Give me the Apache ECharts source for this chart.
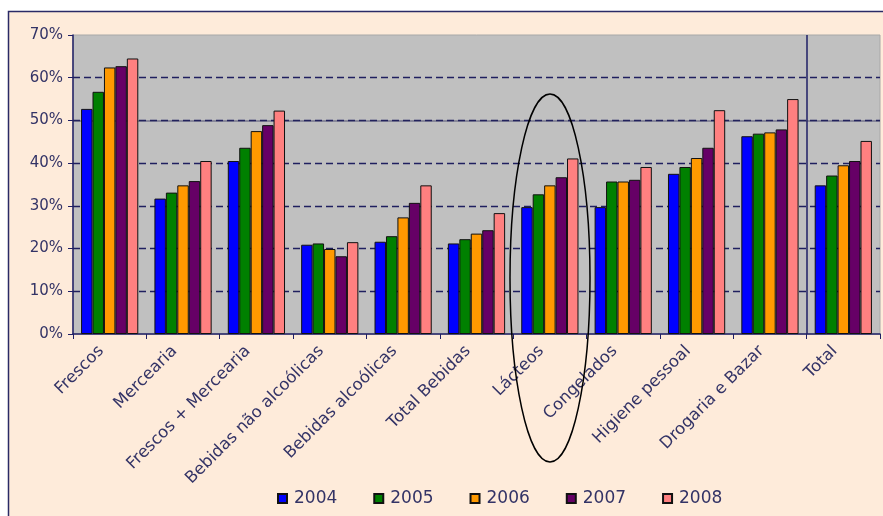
<!DOCTYPE html>
<html>
<head>
<meta charset="utf-8">
<script src="https://cdn.jsdelivr.net/npm/echarts@6/dist/echarts.min.js"></script>
<style>
html,body{margin:0;padding:0;background:#ffffff;}
#chart{width:883px;height:516px;}
</style>
</head>
<body>
<div id="chart"></div>
<script>
const categories = ["Frescos","Mercearia","Frescos + Mercearia","Bebidas não alcoólicas","Bebidas alcoólicas","Total Bebidas","Lácteos","Congelados","Higiene pessoal","Drogaria e Bazar","Total"];
const years = ["2004","2005","2006","2007","2008"];
const colors = ["#0000FF","#008000","#FF9900","#660066","#FF8080"];
const v2004 = [52.7,31.7,40.5,20.9,21.6,21.2,29.7,29.7,37.5,46.3,34.8];
const v2005 = [56.7,33.1,43.6,21.2,22.9,22.2,32.7,35.7,39.1,46.9,37.1];
const v2006 = [62.4,34.8,47.5,19.9,27.3,23.5,34.8,35.7,41.2,47.2,39.5];
const v2007 = [62.7,35.8,48.9,18.2,30.7,24.3,36.7,36.1,43.6,47.9,40.5];
const v2008 = [64.5,40.5,52.3,21.5,34.8,28.3,41.1,39.1,52.4,55.0,45.2];
const yTicks = [0,10,20,30,40,50,60,70];
const gridValues = [10,20,30,40,50,60];
const values = [v2004,v2005,v2006,v2007,v2008];

const navy = '#333366';
const font = '"DejaVu Sans", Verdana, sans-serif';

const gridLines = gridValues.map(v=>({yAxis:v}));

const series = years.map((y,i)=>({
  name:y, type:'bar', data:values[i],
  barGap:'0%', barCategoryGap:'22%',
  itemStyle:{color:colors[i], borderColor:'#111111', borderWidth:1},
  markLine: i===0 ? {silent:true, symbol:'none', label:{show:false}, z:1,
     lineStyle:{color:'#1f1f5f', type:[7,4], width:1.3},
     data:gridLines} :
     (i===1 ? {silent:true, symbol:'none', label:{show:false}, z:1,
     lineStyle:{color:'rgba(40,40,90,0.5)', type:'solid', width:1.5},
     data:[{yAxis:50}]} : undefined)
}));

const chart = echarts.init(document.getElementById('chart'));
chart.setOption({
  backgroundColor:'#ffffff',
  animation:false,
  textStyle:{fontFamily:font},
  graphic:[
    {type:'rect', z:-10, silent:true, shape:{x:8.5,y:11.5,width:900,height:520},
     style:{fill:'#FEEBDA', stroke:'#2a2a66', lineWidth:1.5}},
    {type:'ellipse', z:100, silent:true, shape:{cx:550,cy:278,rx:40,ry:184},
     style:{fill:'none', stroke:'#000000', lineWidth:1.5}}
  ],
  legend:{
    data:years, top:490, left:277, padding:0, itemWidth:9, itemHeight:9, itemGap:36,
    icon:'rect',
    textStyle:{color:navy, fontSize:17, fontFamily:font, padding:[0,0,0,2]}
  },
  grid:{left:73, right:3, top:35, bottom:182, show:true, backgroundColor:'#C0C0C0', borderWidth:1, borderColor:'#a8a8a8'},
  xAxis:{
    type:'category', data:categories,
    axisLine:{lineStyle:{color:'#1f1f66', width:1.5}},
    axisTick:{show:true, length:5, lineStyle:{color:'#1f1f66'}},
    axisLabel:{rotate:45, color:navy, fontSize:16.5, fontFamily:font, margin:6, interval:0, padding:[0,12,0,0]},
    splitLine:{show:true, showMinLine:false, showMaxLine:false,
      interval:function(idx){return idx===0 || idx===10;},
      lineStyle:{color:'#1f1f66', width:1.5}}
  },
  yAxis:{
    type:'value', min:0, max:70, interval:10,
    axisLine:{show:true, lineStyle:{color:'#1f1f66', width:1.5}},
    axisTick:{show:true, length:5, lineStyle:{color:'#1f1f66'}},
    axisLabel:{color:navy, fontSize:15, fontFamily:font, margin:10, formatter:function(v){return yTicks.indexOf(v)>=0 ? v+'%' : '';}},
    splitLine:{show:false}
  },
  series:series
});
</script>
</body>
</html>
